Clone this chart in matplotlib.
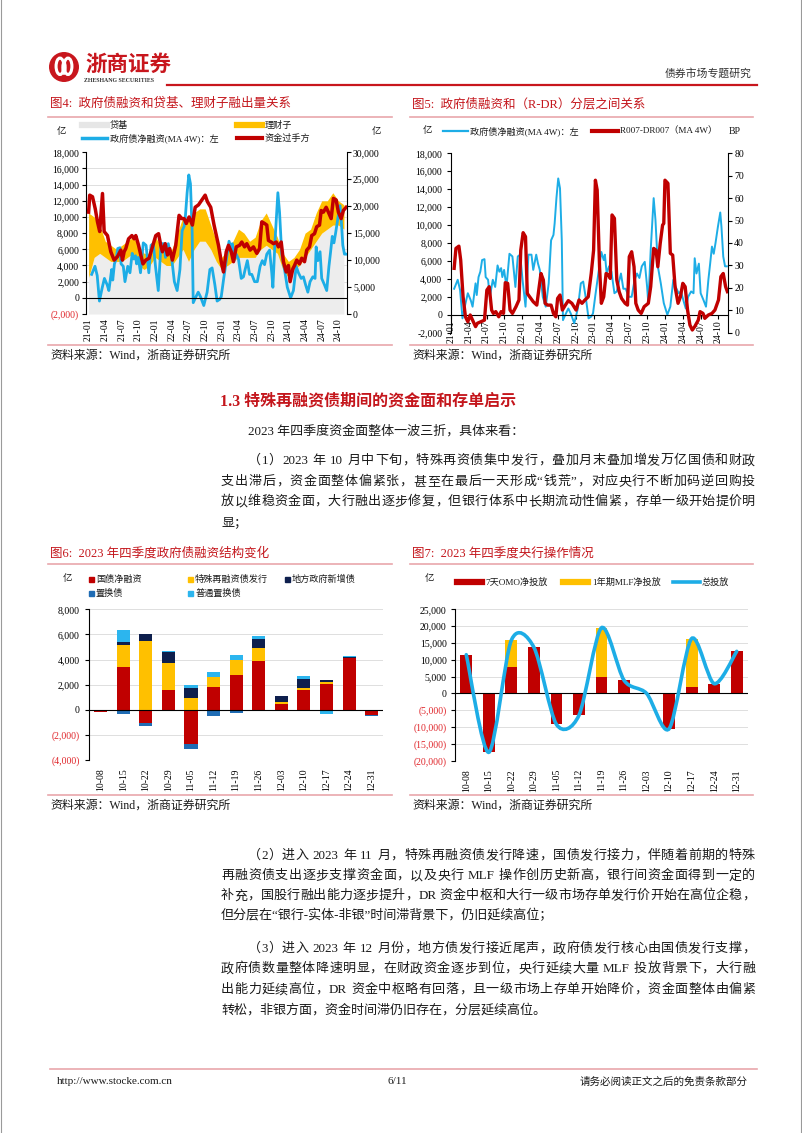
import re
import numpy as np
import matplotlib
matplotlib.use("Agg")
import matplotlib.pyplot as plt
from matplotlib.path import Path
from matplotlib.patches import PathPatch, Rectangle, Circle, Ellipse
from matplotlib.lines import Line2D
from matplotlib.ticker import MultipleLocator

plt.rcParams["font.family"] = ["Liberation Serif", "Noto Sans CJK SC"]
plt.rcParams["axes.unicode_minus"] = False

# ---------------- data ----------------
# month index: 0 = 2021-01
q_pos = [0, 3, 6, 9, 12, 15, 18, 21, 24, 27, 30, 33, 36, 39, 42, 45]
q_labels = ["21-01", "21-04", "21-07", "21-10", "22-01", "22-04", "22-07", "22-10",
            "23-01", "23-04", "23-07", "23-10", "24-01", "24-04", "24-07", "24-10"]

# 政府债净融资(MA 4W), 亿
gov_m = [0.55, 1.15, 1.55, 1.95, 2.45, 2.85, 3.35, 3.65, 4.15, 4.35, 4.65, 4.95, 5.25, 5.65, 5.85,
         6.25, 6.55, 7.05, 7.45, 7.85, 8.15, 8.45, 8.65, 8.95, 9.35, 9.85, 10.35, 10.85, 11.25, 11.65,
         12.05, 12.55, 13.05, 13.55, 13.85, 14.35, 14.65, 14.95, 15.45, 15.95, 16.45, 16.85, 17.25,
         17.45, 17.75, 18.05, 18.35, 18.65, 18.85, 19.35, 19.75, 20.15, 20.75, 21.35, 21.85, 22.25,
         22.75, 23.15, 23.6, 23.9, 24.3, 24.8, 25.3, 25.7, 25.9, 26.2, 26.6, 27.0, 27.5, 27.9, 28.2,
         28.6, 29.0, 29.4, 29.9, 30.4, 30.9, 31.3, 31.7, 32.1, 32.6, 33.0, 33.2, 33.6, 34.1, 34.4,
         34.8, 35.3, 35.8, 36.4, 36.9, 37.4, 37.8, 38.3, 38.7, 39.1, 39.5, 39.9, 40.4, 40.8, 41.0,
         41.3, 41.7, 42.0, 42.5, 42.9, 43.3, 43.6, 43.9, 44.2, 44.5, 44.9, 45.3, 45.5, 45.8, 46.1, 46.4]
gov_v = [2900, 3900, 2750, -400, 1250, 2400, 1600, 900, 3500, 2200, 4200, 4800, 6100, 6200, 4200,
         3900, 2000, 3900, 3100, 5500, 4800, 5200, 4200, 5000, 3100, 6800, 6500, 3100, 6500, 6700,
         3900, 900, 6700, 6700, 5000, 6700, 5700, 5000, 2000, 900, 3500, 8300, 8900, 10200, 13000,
         15200, 14100, 8300, -600, 150, 700, 150, -950, 700, 3500, 3700, 1600, -400, -200, 150, 2200,
         4600, 7000, 6100, 6700, 4600, 5400, 4800, 2400, 2600, 3500, 4600, 2900, 2900, 2000, 2000,
         3900, 4600, 4100, 5400, 5900, 3100, 1300, 7200, 13000, 10600, 5400, 3500, 1300, 0, 900,
         3900, 3100, 2400, 2600, 1600, 700, 2000, 2600, 2400, 6300, 4600, 5700, 2400, 1600, 900,
         3900, 5700, 7600, 6800, 8000, 9800, 11400, 9800, 6500, 5400, 5400]

# 资金过手方, 亿 (right axis)
flow_m = [0.0, 0.2, 0.7, 1.2, 1.6, 2.0, 2.5, 2.8, 3.4, 4.0, 4.6, 5.2, 5.8, 6.1, 6.4, 6.7, 7.2, 7.8,
          8.2, 8.5, 9.0, 9.4, 9.8, 10.3, 10.9, 11.5, 12.1, 12.6, 13.0, 13.3, 13.8, 14.2, 14.6, 15.1,
          15.7, 16.3, 16.8, 17.2, 17.6, 18.1, 18.7, 19.2, 19.8, 20.4, 21.0, 21.4, 22.0, 22.6, 23.4,
          23.9, 24.3, 24.8, 25.2, 25.7, 26.1, 26.6, 27.2, 27.6, 28.1, 28.5, 29.1, 29.7, 30.3, 30.8,
          31.2, 31.7, 32.1, 32.4, 32.9, 33.3, 33.8, 34.2, 34.7, 35.1, 35.6, 36.0, 36.3, 36.8, 37.1,
          37.5, 38.0, 38.4, 38.9, 39.3, 39.8, 40.2, 40.7, 41.1, 41.6, 41.9, 42.3, 42.8, 43.2, 43.7,
          44.1, 44.6, 45.0, 45.5, 45.9, 46.4]
flow_v = [18900, 22050, 21750, 19500, 17100, 15300, 22350, 15300, 14550, 11550, 10000, 10650, 11850,
          10000, 11550, 12150, 13950, 14550, 13950, 14550, 12750, 10950, 9300, 10000, 10350, 12450,
          14550, 14900, 12750, 11550, 13050, 10950, 12150, 10000, 12750, 18300, 17700, 17700, 16800,
          18000, 16500, 19800, 20250, 21150, 22050, 20850, 19800, 16500, 12750, 9700, 7800, 11550,
          12750, 11550, 9700, 12450, 12750, 13350, 12450, 13050, 11850, 12450, 11250, 12150, 17100,
          16800, 16500, 13650, 13350, 13050, 13350, 12450, 13350, 9700, 7800, 9000, 6000, 8400, 9000,
          10000, 9300, 10350, 9700, 11850, 12450, 14550, 14900, 16200, 16500, 19200, 18900, 19800,
          18900, 17700, 21450, 21150, 18900, 17700, 19200, 19800]

# 贷基 / 理财子 (stacked areas, right axis), monthly
area_m = np.arange(47)
daiji = [6750, 10500, 11250, 10500, 9750, 9750, 9750, 10500, 11250, 9000, 8250, 9000, 10500, 9750,
         9000, 9000, 10500, 12000, 9750, 12000, 13500, 13500, 12000, 9750, 8250, 9000, 9750, 10500,
         10500, 10500, 10500, 12000, 12750, 12000, 11250, 8250, 6750, 8250, 9000, 10500, 12000,
         13500, 15000, 15750, 16500, 16500, 15750]
licai = [12000, 7500, 5250, 3000, 3000, 2250, 3000, 3000, 3000, 3750, 3000, 2250, 3750, 3000, 3000,
         3000, 4500, 6000, 7500, 6750, 6000, 6000, 4500, 3750, 2250, 3000, 3750, 5250, 4500, 3000,
         3750, 5250, 6000, 4500, 3000, 3000, 3000, 2250, 3000, 4500, 3750, 5250, 6000, 5250, 6000,
         4500, 4500]

# R007-DR007 (MA 4W), BP
rdr_m = [0.55, 0.85, 1.35, 1.65, 2.05, 2.45, 2.85, 3.25, 3.65, 4.15, 4.45, 5.05, 5.65, 6.05, 6.45,
         6.85, 7.15, 7.55, 8.05, 8.45, 8.85, 9.15, 9.55, 9.95, 10.35, 10.95, 11.45, 11.75, 12.15,
         12.55, 12.85, 13.25, 13.85, 14.45, 14.85, 15.15, 15.55, 15.85, 16.25, 16.85, 17.25, 17.65,
         17.95, 18.35, 18.75, 19.25, 19.75, 20.35, 21.05, 21.55, 22.05, 22.55, 23.1, 23.6, 24.0,
         24.3, 24.6, 25.0, 25.3, 25.7, 26.1, 26.5, 26.8, 27.1, 27.5, 27.9, 28.3, 28.7, 29.3, 29.7,
         30.0, 30.4, 30.8, 31.1, 31.5, 32.0, 32.5, 33.2, 33.6, 34.1, 34.5, 34.8, 35.2, 35.6, 35.8,
         36.0, 36.5, 36.9, 37.3, 37.7, 38.2, 38.6, 39.0, 39.4, 39.8, 40.2, 40.6, 41.0, 41.6, 41.9,
         42.4, 42.7, 43.3, 43.9, 44.4, 45.0, 45.4, 45.8, 46.2, 46.5]
rdr_v = [28.7, 37.6, 38.6, 32.4, 16, 7.1, 4.9, 7.9, 5.6, 2.7, 4.2, 4.9, 5.6, 19, 20.5, 10.1, 8.6,
         9.4, 7.1, 9.4, 8.6, 22.3, 22, 10.1, 8.6, 11.6, 14.6, 36.8, 44.6, 42.8, 17.5, 16, 13.8, 12.3,
         20.5, 26.4, 23.5, 13.1, 12.3, 12.3, 8.6, 7.1, 15.3, 16.8, 10.1, 12.3, 14.3, 13.1, 10.1, 14.6,
         13.1, 14.6, 16, 26.4, 36.8, 68, 63.6, 29.4, 13.1, 16, 26.4, 25.7, 24.2, 52.5, 51, 23.5, 18.3,
         15.3, 13.1, 12.3, 33.9, 36.1, 29.4, 13.1, 10.1, 8.6, 11.6, 13.1, 20.5, 37.6, 36.8, 29.4,
         39.8, 48, 48.7, 68, 66.6, 35.4, 34.6, 20.5, 13.1, 16, 22, 20.5, 10.1, 3.4, 1.2, 2.7, 5.6,
         9.4, 8.6, 6.4, 7.9, 8.6, 10.1, 14.6, 25, 26.4, 20.5, 18.3]

# 2023Q4 weekly
weeks = ["10-08", "10-15", "10-22", "10-29", "11-05", "11-12", "11-19", "11-26",
         "12-03", "12-10", "12-17", "12-24", "12-31"]
guozhai = [-200, 3400, -1000, 1550, -2700, 1800, 2750, 3900, 500, 1600, 2100, 4100, -400]
teshu = [0, 1750, 5500, 2200, 950, 850, 1250, 1000, 100, 150, 150, 0, 0]
difang = [0, 250, 500, 850, 800, 0, 0, 750, 500, 700, 150, 100, 0]
zhihuan = [0, -350, -300, -50, -400, -450, -250, 0, 0, -100, 0, 0, -100]
putong = [0, 950, 0, 100, 250, 350, 350, 200, 0, 250, -300, 100, 0]

omo = [11500, -17500, 7800, 13700, -9200, -6500, 5000, 3900, 0, -10500, 2000, 2900, 12500]
mlf = [0, 0, 8000, 0, 0, 0, 14500, 0, 0, 0, 14300, 0, 0]

# ---------------- style ----------------
RED = "#C00000"
YEL = "#FFC000"
BLUE = "#1DADE6"
NAVY = "#0E1F4D"
MBLUE = "#1F6CB4"
LBLUE = "#2CB5EE"
GFILL = "#EDEDED"
GRID = "#D9D9D9"
TRED = "#C4161C"
PINK = "#E9A7AC"
NEG = "#E0262B"
TXT = "#1A1A1A"
CJK = ["Noto Sans CJK SC", "DejaVu Sans"]

W, H = 802, 1133
fig = plt.figure(figsize=(W / 100, H / 100), dpi=100)


def add_ax(x0, y0, x1, y1):
    return fig.add_axes([x0 / W, 1 - y1 / H, (x1 - x0) / W, (y1 - y0) / H])


def ftext(x, y, s, **kw):
    kw.setdefault("va", "center")
    return fig.text(x / W, 1 - y / H, s, **kw)


def hline(x0, x1, y, color, lw):
    fig.add_artist(Line2D([x0 / W, x1 / W], [1 - y / H, 1 - y / H], color=color, lw=lw))


def leg_box(x, y, color, w=5, h=5):
    fig.add_artist(Rectangle(((x - w / 2) / W, 1 - (y + h / 2) / H), w / W, h / H,
                             color=color, transform=fig.transFigure))


def fmt(v):
    return f"({abs(v):,})" if v < 0 else f"{v:,}"


def yticks(ax, ticks, paren=True, red_neg=True, size=7):
    ax.set_yticks(ticks)
    labels = [fmt(t) if paren else f"{t:,}" for t in ticks]
    ax.set_yticklabels(labels, fontsize=size)
    if red_neg:
        for lbl, t in zip(ax.get_yticklabels(), ticks):
            if t < 0:
                lbl.set_color(NEG)


def spines_off(ax, keep=()):
    for k, s in ax.spines.items():
        if k in keep:
            s.set_visible(True)
            s.set_color("black")
            s.set_linewidth(0.8)
        else:
            s.set_visible(False)


def smooth_path(xs, ys, k=7.0):
    pts = np.column_stack([xs, ys]).astype(float)
    n = len(pts)
    verts = [pts[0]]
    codes = [Path.MOVETO]
    for i in range(n - 1):
        p0 = pts[max(i - 1, 0)]
        p1 = pts[i]
        p2 = pts[i + 1]
        p3 = pts[min(i + 2, n - 1)]
        verts += [p1 + (p2 - p0) / k, p2 - (p3 - p1) / k, p2]
        codes += [Path.CURVE4] * 3
    return Path(verts, codes)


renderer = fig.canvas.get_renderer()


def body_line(x0, y, s, x1=None, size=9.4, color=TXT, **kw):
    if x1 is None:
        ftext(x0, y, s, fontsize=size, color=color, **kw)
        return
    toks = re.findall(r"[A-Za-z0-9.,\-/:()]+| +|.", s)
    items = []
    for t in toks:
        if t.isspace():
            items.append((None, size * 100 / 72 * 0.25 * len(t)))
            continue
        tx = ftext(x0, y, t, fontsize=size, color=color, **kw)
        items.append((tx, tx.get_window_extent(renderer).width))
    total = sum(w for _, w in items)
    gap = (x1 - x0 - total) / max(len(items) - 1, 1)
    x = x0
    for tx, w in items:
        if tx is not None:
            tx.set_x(x / W)
        x += w + gap


# ---------------- page frame / header ----------------
fig.add_artist(Line2D([0.6 / W, 0.6 / W], [0, 1], color="#9a9a9a", lw=0.8))
fig.add_artist(Line2D([1 - 1.5 / W, 1 - 1.5 / W], [0, 1], color="#9a9a9a", lw=0.8))

logo = add_ax(49, 52, 79, 82)
logo.set_xlim(-1.05, 1.05)
logo.set_ylim(-1.05, 1.05)
logo.set_aspect("equal")
logo.axis("off")
logo.add_patch(Circle((0, 0), 1.0, color="#C8161D"))
logo.add_patch(Ellipse((-0.28, 0.05), 0.55, 1.15, fill=False, ec="white", lw=2.2))
logo.add_patch(Ellipse((0.28, 0.05), 0.55, 1.15, fill=False, ec="white", lw=2.2))
logo.add_patch(Ellipse((0, -0.05), 0.28, 0.9, color="white"))

ftext(85, 64, "浙商证券", fontsize=15.5, fontweight="bold", color="#C8161D", family=CJK)
ftext(84, 81, "ZHESHANG SECURITIES", fontsize=4.2, fontweight="bold", color="#333333")
hline(167, 757, 84.5, "#C8161D", 1.6)
ftext(752, 73, "债券市场专题研究", ha="right", fontsize=7.8, color="#333333")

# ---------------- chart titles / frames ----------------
title_kw = dict(fontsize=9.0, color=TRED)
ftext(50, 104, "图4:  政府债融资和贷基、理财子融出量关系", **title_kw)
ftext(412, 104, "图5:  政府债融资和（R-DR）分层之间关系", **title_kw)
hline(48, 392, 117, PINK, 1.2)
hline(410, 753, 117, PINK, 1.2)
hline(48, 392, 345, PINK, 1.2)
hline(410, 753, 345, PINK, 1.2)
ftext(50, 356, "资料来源：Wind，浙商证券研究所", fontsize=8.6, color=TXT)
ftext(412, 356, "资料来源：Wind，浙商证券研究所", fontsize=8.6, color=TXT)

ftext(50, 553, "图6:  2023 年四季度政府债融资结构变化", **title_kw)
ftext(412, 553, "图7:  2023 年四季度央行操作情况", **title_kw)
hline(48, 392, 564, PINK, 1.2)
hline(410, 753, 564, PINK, 1.2)
hline(48, 392, 795, PINK, 1.2)
hline(410, 753, 795, PINK, 1.2)
ftext(50, 806, "资料来源：Wind，浙商证券研究所", fontsize=8.6, color=TXT)
ftext(412, 806, "资料来源：Wind，浙商证券研究所", fontsize=8.6, color=TXT)

leg_fs = 6.6

# ---------------- Fig 4 ----------------
axa = add_ax(86, 152.3, 346.7, 314)
axa.set_xlim(-0.47, 46.5)
axa.set_ylim(0, 30000)
axa.fill_between(area_m, 0, daiji, color=GFILL, lw=0, zorder=2)
axa.fill_between(area_m, daiji, np.array(daiji) + np.array(licai), color=YEL, lw=0, zorder=2)
axa.yaxis.set_minor_locator(MultipleLocator(3000))
axa.grid(which="minor", axis="y", color=GRID, lw=0.6, zorder=0)
axa.set_axisbelow(True)
axa.set_xticks(q_pos)
axa.set_xticklabels(q_labels, rotation=90, fontsize=7)
axa.tick_params(axis="x", length=0, pad=3)

axl = axa.twinx()
axr = axa.twinx()

axl.yaxis.tick_left()
axl.set_ylim(-2000, 18000)
axl.plot(gov_m, gov_v, color=BLUE, lw=2.0, solid_joinstyle="round")
axl.axhline(0, color="black", lw=0.8)
yticks(axl, list(range(-2000, 18001, 2000)))
axl.tick_params(axis="y", direction="out", length=3, pad=2)
spines_off(axl, keep=("left",))

axr.set_ylim(0, 30000)
axr.plot(flow_m, flow_v, color=RED, lw=2.5, solid_joinstyle="round")
axr.set_yticks([])
spines_off(axr)

# right-hand scale for the areas (set after twinx, which moves ticks left)
axa.yaxis.tick_right()
yticks(axa, list(range(0, 30001, 5000)), red_neg=False)
axa.tick_params(axis="y", which="major", direction="out", length=3, pad=1.5)
axa.tick_params(axis="y", which="minor", length=0)
spines_off(axa, keep=("right",))

ftext(57, 132, "亿", fontsize=6.8, color=TXT, family=CJK)
ftext(376, 132, "亿", fontsize=6.8, color=TXT, ha="center", family=CJK)
hline(82, 107, 125, "#E6E6E6", 4.5)
ftext(110, 125, "贷基", fontsize=leg_fs, color=TXT)
hline(237, 262, 125, YEL, 4.5)
ftext(265, 125, "理财子", fontsize=leg_fs, color=TXT)
hline(82, 107, 138, BLUE, 2.5)
ftext(110, 138, "政府债净融资(MA 4W)：左", fontsize=leg_fs, color=TXT)
hline(237, 262, 138, RED, 3)
ftext(265, 138, "资金过手方", fontsize=leg_fs, color=TXT)

# ---------------- Fig 5 ----------------
ax5 = add_ax(450.7, 153.3, 728, 332.7)
ax5r = ax5.twinx()
ax5.yaxis.tick_left()
ax5.set_xlim(-0.03, 46.6)
ax5.set_ylim(-2000, 18000)
ax5.plot(gov_m, gov_v, color=BLUE, lw=1.4, solid_joinstyle="round")
ax5.set_yticks(list(range(-2000, 18001, 2000)))
ax5.set_yticklabels([f"{t:,}" for t in range(-2000, 18001, 2000)], fontsize=7)
ax5.tick_params(axis="y", direction="out", length=3, pad=3)
ax5.spines["bottom"].set_position(("data", 0))
ax5.set_xticks(q_pos)
ax5.set_xticklabels(q_labels, rotation=90, fontsize=7)
ax5.tick_params(axis="x", direction="out", length=3, pad=1)
spines_off(ax5, keep=("left", "bottom"))

ax5r.set_ylim(0, 80)
ax5r.plot(rdr_m, rdr_v, color=RED, lw=2.4, solid_joinstyle="round")
ax5r.set_yticks(list(range(0, 81, 10)))
ax5r.set_yticklabels([str(t) for t in range(0, 81, 10)], fontsize=7)
ax5r.tick_params(axis="y", direction="out", length=3, pad=1.5)
spines_off(ax5r, keep=("right",))

ftext(423, 131, "亿", fontsize=6.8, color=TXT, family=CJK)
hline(443, 468, 131, BLUE, 1.6)
ftext(470, 131, "政府债净融资(MA 4W)：左", fontsize=leg_fs, color=TXT)
hline(592, 618, 131, RED, 3)
ftext(620, 131, "R007-DR007（MA 4W）", fontsize=leg_fs, color=TXT)
ftext(729, 131, "BP", fontsize=7, color=TXT)

# ---------------- Fig 6 ----------------
x6 = np.arange(len(weeks))
ax6 = add_ax(89.3, 609.3, 383, 760.3)
ax6.set_xlim(-0.5, 12.5)
ax6.set_ylim(-4000, 8000)
pos = np.zeros(len(weeks))
neg = np.zeros(len(weeks))
for vals, c in [(guozhai, RED), (teshu, YEL), (difang, NAVY), (zhihuan, MBLUE), (putong, LBLUE)]:
    v = np.array(vals, dtype=float)
    base = np.where(v >= 0, pos, neg)
    ax6.bar(x6, v, 0.58, bottom=base, color=c, lw=0, zorder=3)
    pos += np.clip(v, 0, None)
    neg += np.clip(v, None, 0)
ax6.axhline(0, color="black", lw=0.8, zorder=4)
ax6.grid(axis="y", color=GRID, lw=0.6, zorder=0)
yticks(ax6, list(range(-4000, 8001, 2000)))
ax6.tick_params(axis="y", direction="out", length=3, pad=4)
ax6.set_xticks(x6)
ax6.set_xticklabels(weeks, rotation=90, fontsize=7)
ax6.tick_params(axis="x", length=0, pad=6)
spines_off(ax6, keep=("left",))

ftext(63, 579, "亿", fontsize=6.8, color=TXT, family=CJK)
for (lx, ly, c, s) in [(91, 579.5, RED, "国债净融资"), (190, 579.5, YEL, "特殊再融资债发行"),
                       (287, 579.5, NAVY, "地方政府新增债"), (91, 593, MBLUE, "置换债"),
                       (190, 593, LBLUE, "普通置换债")]:
    leg_box(lx, ly, c)
    ftext(lx + 5, ly, s, fontsize=leg_fs, color=TXT)

# ---------------- Fig 7 ----------------
x7 = np.arange(len(weeks))
total = np.array(omo) + np.array(mlf)
ax7 = add_ax(455, 609.3, 748, 760.7)
ax7.set_xlim(-0.5, 12.5)
ax7.set_ylim(-20000, 25000)
ax7.bar(x7, omo, 0.52, color=RED, lw=0, zorder=3)
ax7.bar(x7, mlf, 0.52, bottom=np.clip(omo, 0, None), color=YEL, lw=0, zorder=3)
ax7.add_patch(PathPatch(smooth_path(x7, total), fill=False, ec=BLUE, lw=2.6,
                        capstyle="round", zorder=5))
ax7.axhline(0, color="black", lw=0.8, zorder=4)
ax7.grid(axis="y", color=GRID, lw=0.6, zorder=0)
yticks(ax7, list(range(-20000, 25001, 5000)))
ax7.tick_params(axis="y", direction="out", length=3, pad=3)
ax7.set_xticks(x7)
ax7.set_xticklabels(weeks, rotation=90, fontsize=7)
ax7.tick_params(axis="x", length=0, pad=6)
spines_off(ax7, keep=("left",))

ftext(425, 579, "亿", fontsize=6.8, color=TXT, family=CJK)
hline(457, 482, 582, RED, 4.5)
ftext(485, 582, "7天OMO净投放", fontsize=leg_fs, color=TXT)
hline(563, 588, 582, YEL, 4.5)
ftext(592, 582, "1年期MLF净投放", fontsize=leg_fs, color=TXT)
hline(673, 700, 582, BLUE, 2.6)
ftext(702, 582, "总投放", fontsize=leg_fs, color=TXT)

# ---------------- body text ----------------
ftext(220, 401, "1.3 特殊再融资债期间的资金面和存单启示", fontsize=11.5, fontweight="bold", color=TRED)
L, R = 221, 755
body_line(248, 431, "2023 年四季度资金面整体一波三折，具体来看：")
body_line(248, 461, "（1）2023 年 10 月中下旬，特殊再资债集中发行，叠加月末叠加增发万亿国债和财政", R)
body_line(L, 482, "支出滞后，资金面整体偏紧张，甚至在最后一天形成“钱荒”，对应央行不断加码逆回购投", R)
body_line(L, 502, "放以维稳资金面，大行融出逐步修复，但银行体系中长期流动性偏紧，存单一级开始提价明", R)
body_line(L, 523, "显；")

body_line(248, 856, "（2）进入 2023 年 11 月，特殊再融资债发行降速，国债发行接力，伴随着前期的特殊", R)
body_line(L, 876, "再融资债支出逐步支撑资金面，以及央行 MLF 操作创历史新高，银行间资金面得到一定的", R)
body_line(L, 896, "补充，国股行融出能力逐步提升，DR 资金中枢和大行一级市场存单发行价开始在高位企稳，", R)
body_line(L, 915, "但分层在“银行-实体-非银”时间滞背景下，仍旧延续高位；")
body_line(248, 949, "（3）进入 2023 年 12 月份，地方债发行接近尾声，政府债发行核心由国债发行支撑，", R)
body_line(L, 969, "政府债数量整体降速明显，在财政资金逐步到位，央行延续大量 MLF 投放背景下，大行融", R)
body_line(L, 990, "出能力延续高位，DR 资金中枢略有回落，且一级市场上存单开始降价，资金面整体由偏紧", R)
body_line(L, 1010, "转松，非银方面，资金时间滞仍旧存在，分层延续高位。")

# ---------------- footer ----------------
hline(50, 757, 1069, PINK, 1.2)
ftext(57, 1082, "http://www.stocke.com.cn", fontsize=8, color=TXT)
ftext(397, 1082, "6/11", fontsize=8, color=TXT, ha="center")
ftext(748, 1082, "请务必阅读正文之后的免责条款部分", fontsize=7.6, color=TXT, ha="right")

fig.savefig("out.png", dpi=100)
